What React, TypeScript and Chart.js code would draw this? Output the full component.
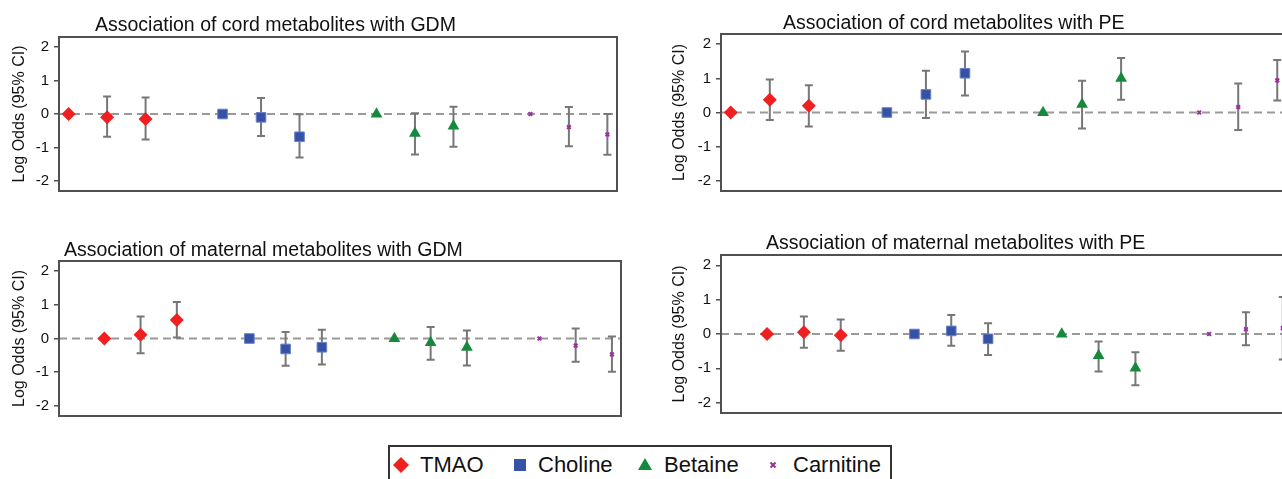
import React, { useEffect, useRef } from 'react';
import { Chart, registerables } from 'chart.js';

Chart.register(...registerables);

// ---- data -----------------------------------------------------------
const metabolites = ['TMAO', 'Choline', 'Betaine', 'Carnitine'];
const models = ['Reference', 'Model 2', 'Model 3'];
const yTickValues = [-2, -1, 0, 1, 2];
const yAxisLabel = 'Log Odds (95% CI)';

const cordGdmTitle = 'Association of cord metabolites with GDM';
const cordGdmEst = [0, -0.1, -0.15, 0, -0.1, -0.68, 0, -0.58, -0.36, 0, -0.39, -0.61];
const cordGdmLo = [null, -0.68, -0.76, null, -0.66, -1.3, null, -1.21, -0.98, null, -0.96, -1.22];
const cordGdmHi = [null, 0.52, 0.49, null, 0.48, -0.01, null, 0.02, 0.22, null, 0.21, 0.0];

const cordPeTitle = 'Association of cord metabolites with PE';
const cordPeEst = [0, 0.37, 0.2, 0, 0.53, 1.15, 0, 0.24, 1.0, 0, 0.16, 0.94];
const cordPeLo = [null, -0.22, -0.41, null, -0.16, 0.5, null, -0.47, 0.37, null, -0.51, 0.35];
const cordPeHi = [null, 0.97, 0.8, null, 1.22, 1.79, null, 0.93, 1.6, null, 0.85, 1.54];

const matGdmTitle = 'Association of maternal metabolites with GDM';
const matGdmEst = [0, 0.11, 0.55, 0, -0.31, -0.26, 0, -0.12, -0.26, 0, -0.21, -0.47];
const matGdmLo = [null, -0.44, 0.03, null, -0.81, -0.77, null, -0.63, -0.8, null, -0.69, -0.99];
const matGdmHi = [null, 0.65, 1.08, null, 0.19, 0.26, null, 0.34, 0.24, null, 0.3, 0.06];

const matPeTitle = 'Association of maternal metabolites with PE';
const matPeEst = [0, 0.05, -0.04, 0, 0.09, -0.14, 0, -0.63, -0.99, 0, 0.14, 0.17];
const matPeLo = [null, -0.4, -0.49, null, -0.34, -0.61, null, -1.09, -1.49, null, -0.33, -0.74];
const matPeHi = [null, 0.51, 0.42, null, 0.55, 0.31, null, -0.22, -0.53, null, 0.63, 1.08];

// ---- styles ---------------------------------------------------------
const FONT = '"Liberation Sans", Arial, Helvetica, sans-serif';
const markerStyles = [
  { pointStyle: 'rectRot', radius: 7, bg: '#ee2020', border: '#ee2020', bw: 0 },
  { pointStyle: 'rect', radius: 6.8, bg: '#3552a6', border: '#6a82c4', bw: 1 },
  { pointStyle: 'triangle', radius: 6.8, bg: '#168a3c', border: '#168a3c', bw: 0 },
  { pointStyle: 'crossRot', radius: 2.6, bg: '#9a309a', border: '#9a309a', bw: 2 },
];

type PanelProps = {
  title: string;
  est: number[];
  lo: (number | null)[];
  hi: (number | null)[];
  box: { left: number; top: number; width: number; height: number };
  area: { left: number; top: number; right: number; bottom: number };
  xMin: number;
  xMax: number;
  titleX: number;
  titleY: number;
};

function Panel(p: PanelProps) {
  const ref = useRef<HTMLCanvasElement | null>(null);
  useEffect(() => {
    if (!ref.current) return;
    const { box, area } = p;
    const axisWidth = area.left - box.left;
    const xs = p.est.map((_, i) => Math.floor(i / models.length) * (models.length + 1) + (i % models.length));

    const decor = {
      id: 'decor',
      beforeDatasetsDraw(chart: any) {
        const { ctx, chartArea: a, scales } = chart;
        const x = scales.x;
        const y = scales.y;
        ctx.save();
        ctx.beginPath();
        ctx.rect(a.left, a.top, a.right - a.left, a.bottom - a.top);
        ctx.clip();
        const y0 = y.getPixelForValue(0);
        ctx.strokeStyle = '#999999';
        ctx.lineWidth = 2;
        ctx.setLineDash([8, 5]);
        ctx.beginPath();
        ctx.moveTo(a.left, y0);
        ctx.lineTo(a.right, y0);
        ctx.stroke();
        ctx.setLineDash([]);
        ctx.strokeStyle = '#777777';
        ctx.lineWidth = 2;
        p.lo.forEach((lo, i) => {
          const hi = p.hi[i];
          if (lo == null || hi == null) return;
          const px = x.getPixelForValue(xs[i]);
          const pl = y.getPixelForValue(lo);
          const ph = y.getPixelForValue(hi);
          ctx.beginPath();
          ctx.moveTo(px, pl);
          ctx.lineTo(px, ph);
          ctx.moveTo(px - 4, pl);
          ctx.lineTo(px + 4, pl);
          ctx.moveTo(px - 4, ph);
          ctx.lineTo(px + 4, ph);
          ctx.stroke();
        });
        ctx.restore();
      },
      afterDraw(chart: any) {
        const { ctx, chartArea: a } = chart;
        ctx.save();
        ctx.strokeStyle = '#505050';
        ctx.lineWidth = 2;
        ctx.strokeRect(a.left, a.top, a.right - a.left, a.bottom - a.top);
        ctx.fillStyle = '#111111';
        ctx.font = `19.5px ${FONT}`;
        ctx.textAlign = 'left';
        ctx.textBaseline = 'alphabetic';
        ctx.fillText(p.title, p.titleX - box.left, p.titleY - box.top);
        ctx.restore();
      },
    };

    const datasets = metabolites.map((name, g) => {
      const s = markerStyles[g];
      return {
        label: name,
        data: models.map((_, j) => {
          const i = g * models.length + j;
          return { x: xs[i], y: p.est[i] };
        }),
        showLine: false,
        pointStyle: s.pointStyle,
        pointRadius: s.radius,
        pointBackgroundColor: s.bg,
        pointBorderColor: s.border,
        pointBorderWidth: s.bw,
      };
    });

    const chart = new Chart(ref.current, {
      type: 'scatter',
      data: { datasets } as any,
      options: {
        responsive: false,
        animation: false,
        events: [],
        layout: {
          padding: {
            left: 0,
            top: area.top - box.top,
            right: box.left + box.width - area.right,
            bottom: box.top + box.height - area.bottom,
          },
        },
        plugins: { legend: { display: false }, tooltip: { enabled: false }, title: { display: false } },
        scales: {
          x: { type: 'linear', min: p.xMin, max: p.xMax, display: false },
          y: {
            type: 'linear',
            min: -2.3,
            max: 2.3,
            afterFit: (scale: any) => {
              scale.width = axisWidth;
            },
            afterBuildTicks: (scale: any) => {
              scale.ticks = yTickValues.map((v) => ({ value: v }));
            },
            ticks: {
              color: '#111111',
              font: { family: FONT, size: 15 },
              padding: 5,
              callback: (v: any) => String(v),
            },
            grid: {
              drawOnChartArea: false,
              drawTicks: true,
              tickLength: 5,
              color: '#505050',
              lineWidth: 1.5,
            },
            border: { display: false },
            title: {
              display: true,
              text: yAxisLabel,
              color: '#111111',
              font: { family: FONT, size: 16 },
              padding: { top: 10, bottom: 0 },
            },
          },
        },
      },
      plugins: [decor],
    } as any);
    return () => chart.destroy();
  }, []);
  const { box } = p;
  return (
    <canvas
      ref={ref}
      width={box.width}
      height={box.height}
      style={{ position: 'absolute', left: box.left, top: box.top, width: box.width, height: box.height }}
    />
  );
}

function LegendMarker({ kind }: { kind: number }) {
  if (kind === 0)
    return (
      <svg width="18" height="18" viewBox="0 0 18 18">
        <polygon points="9,1 17,9 9,17 1,9" fill="#ee2020" />
      </svg>
    );
  if (kind === 1)
    return (
      <svg width="18" height="18" viewBox="0 0 18 18">
        <rect x="3" y="3" width="12" height="12" fill="#3552a6" />
      </svg>
    );
  if (kind === 2)
    return (
      <svg width="18" height="18" viewBox="0 0 18 18">
        <polygon points="9,2 16,14 2,14" fill="#168a3c" />
      </svg>
    );
  return (
    <svg width="18" height="18" viewBox="0 0 18 18">
      <path d="M6.5,6.5 L11.5,11.5 M11.5,6.5 L6.5,11.5" stroke="#9a309a" strokeWidth="2" />
    </svg>
  );
}

const legendMarkerX = [11, 130, 255, 383];
const legendTextX = [30, 148, 274, 403];

export default function App() {
  return (
    <div
      style={{
        position: 'fixed',
        left: 0,
        top: 0,
        width: 1282,
        height: 479,
        overflow: 'hidden',
        background: '#ffffff',
      }}
    >
      <Panel
        title={cordGdmTitle}
        est={cordGdmEst}
        lo={cordGdmLo}
        hi={cordGdmHi}
        box={{ left: 0, top: 0, width: 650, height: 225 }}
        area={{ left: 59, top: 37, right: 617, bottom: 191 }}
        xMin={-0.25}
        xMax={14.25}
        titleX={95}
        titleY={31}
      />
      <Panel
        title={cordPeTitle}
        est={cordPeEst}
        lo={cordPeLo}
        hi={cordPeHi}
        box={{ left: 660, top: 0, width: 640, height: 225 }}
        area={{ left: 721, top: 34, right: 1287, bottom: 191 }}
        xMin={-0.25}
        xMax={14.25}
        titleX={783}
        titleY={28.5}
      />
      <Panel
        title={matGdmTitle}
        est={matGdmEst}
        lo={matGdmLo}
        hi={matGdmHi}
        box={{ left: 0, top: 230, width: 650, height: 215 }}
        area={{ left: 59, top: 261, right: 621, bottom: 416 }}
        xMin={-1.25}
        xMax={14.25}
        titleX={64}
        titleY={256}
      />
      <Panel
        title={matPeTitle}
        est={matPeEst}
        lo={matPeLo}
        hi={matPeHi}
        box={{ left: 660, top: 230, width: 640, height: 215 }}
        area={{ left: 721, top: 255, right: 1292, bottom: 413 }}
        xMin={-1.25}
        xMax={14.25}
        titleX={766}
        titleY={248.5}
      />
      <div
        style={{
          position: 'absolute',
          left: 388,
          top: 445,
          width: 504,
          height: 50,
          border: '2px solid #333333',
          boxSizing: 'border-box',
          fontFamily: FONT,
          fontSize: 22,
          color: '#111111',
        }}
      >
        {metabolites.map((m, i) => (
          <React.Fragment key={m}>
            <div style={{ position: 'absolute', left: legendMarkerX[i] - 9, top: 18 - 9, width: 18, height: 18, lineHeight: 0 }}>
              <LegendMarker kind={i} />
            </div>
            <span style={{ position: 'absolute', left: legendTextX[i], top: 7, lineHeight: '22px', whiteSpace: 'nowrap' }}>
              {m}
            </span>
          </React.Fragment>
        ))}
      </div>
    </div>
  );
}
